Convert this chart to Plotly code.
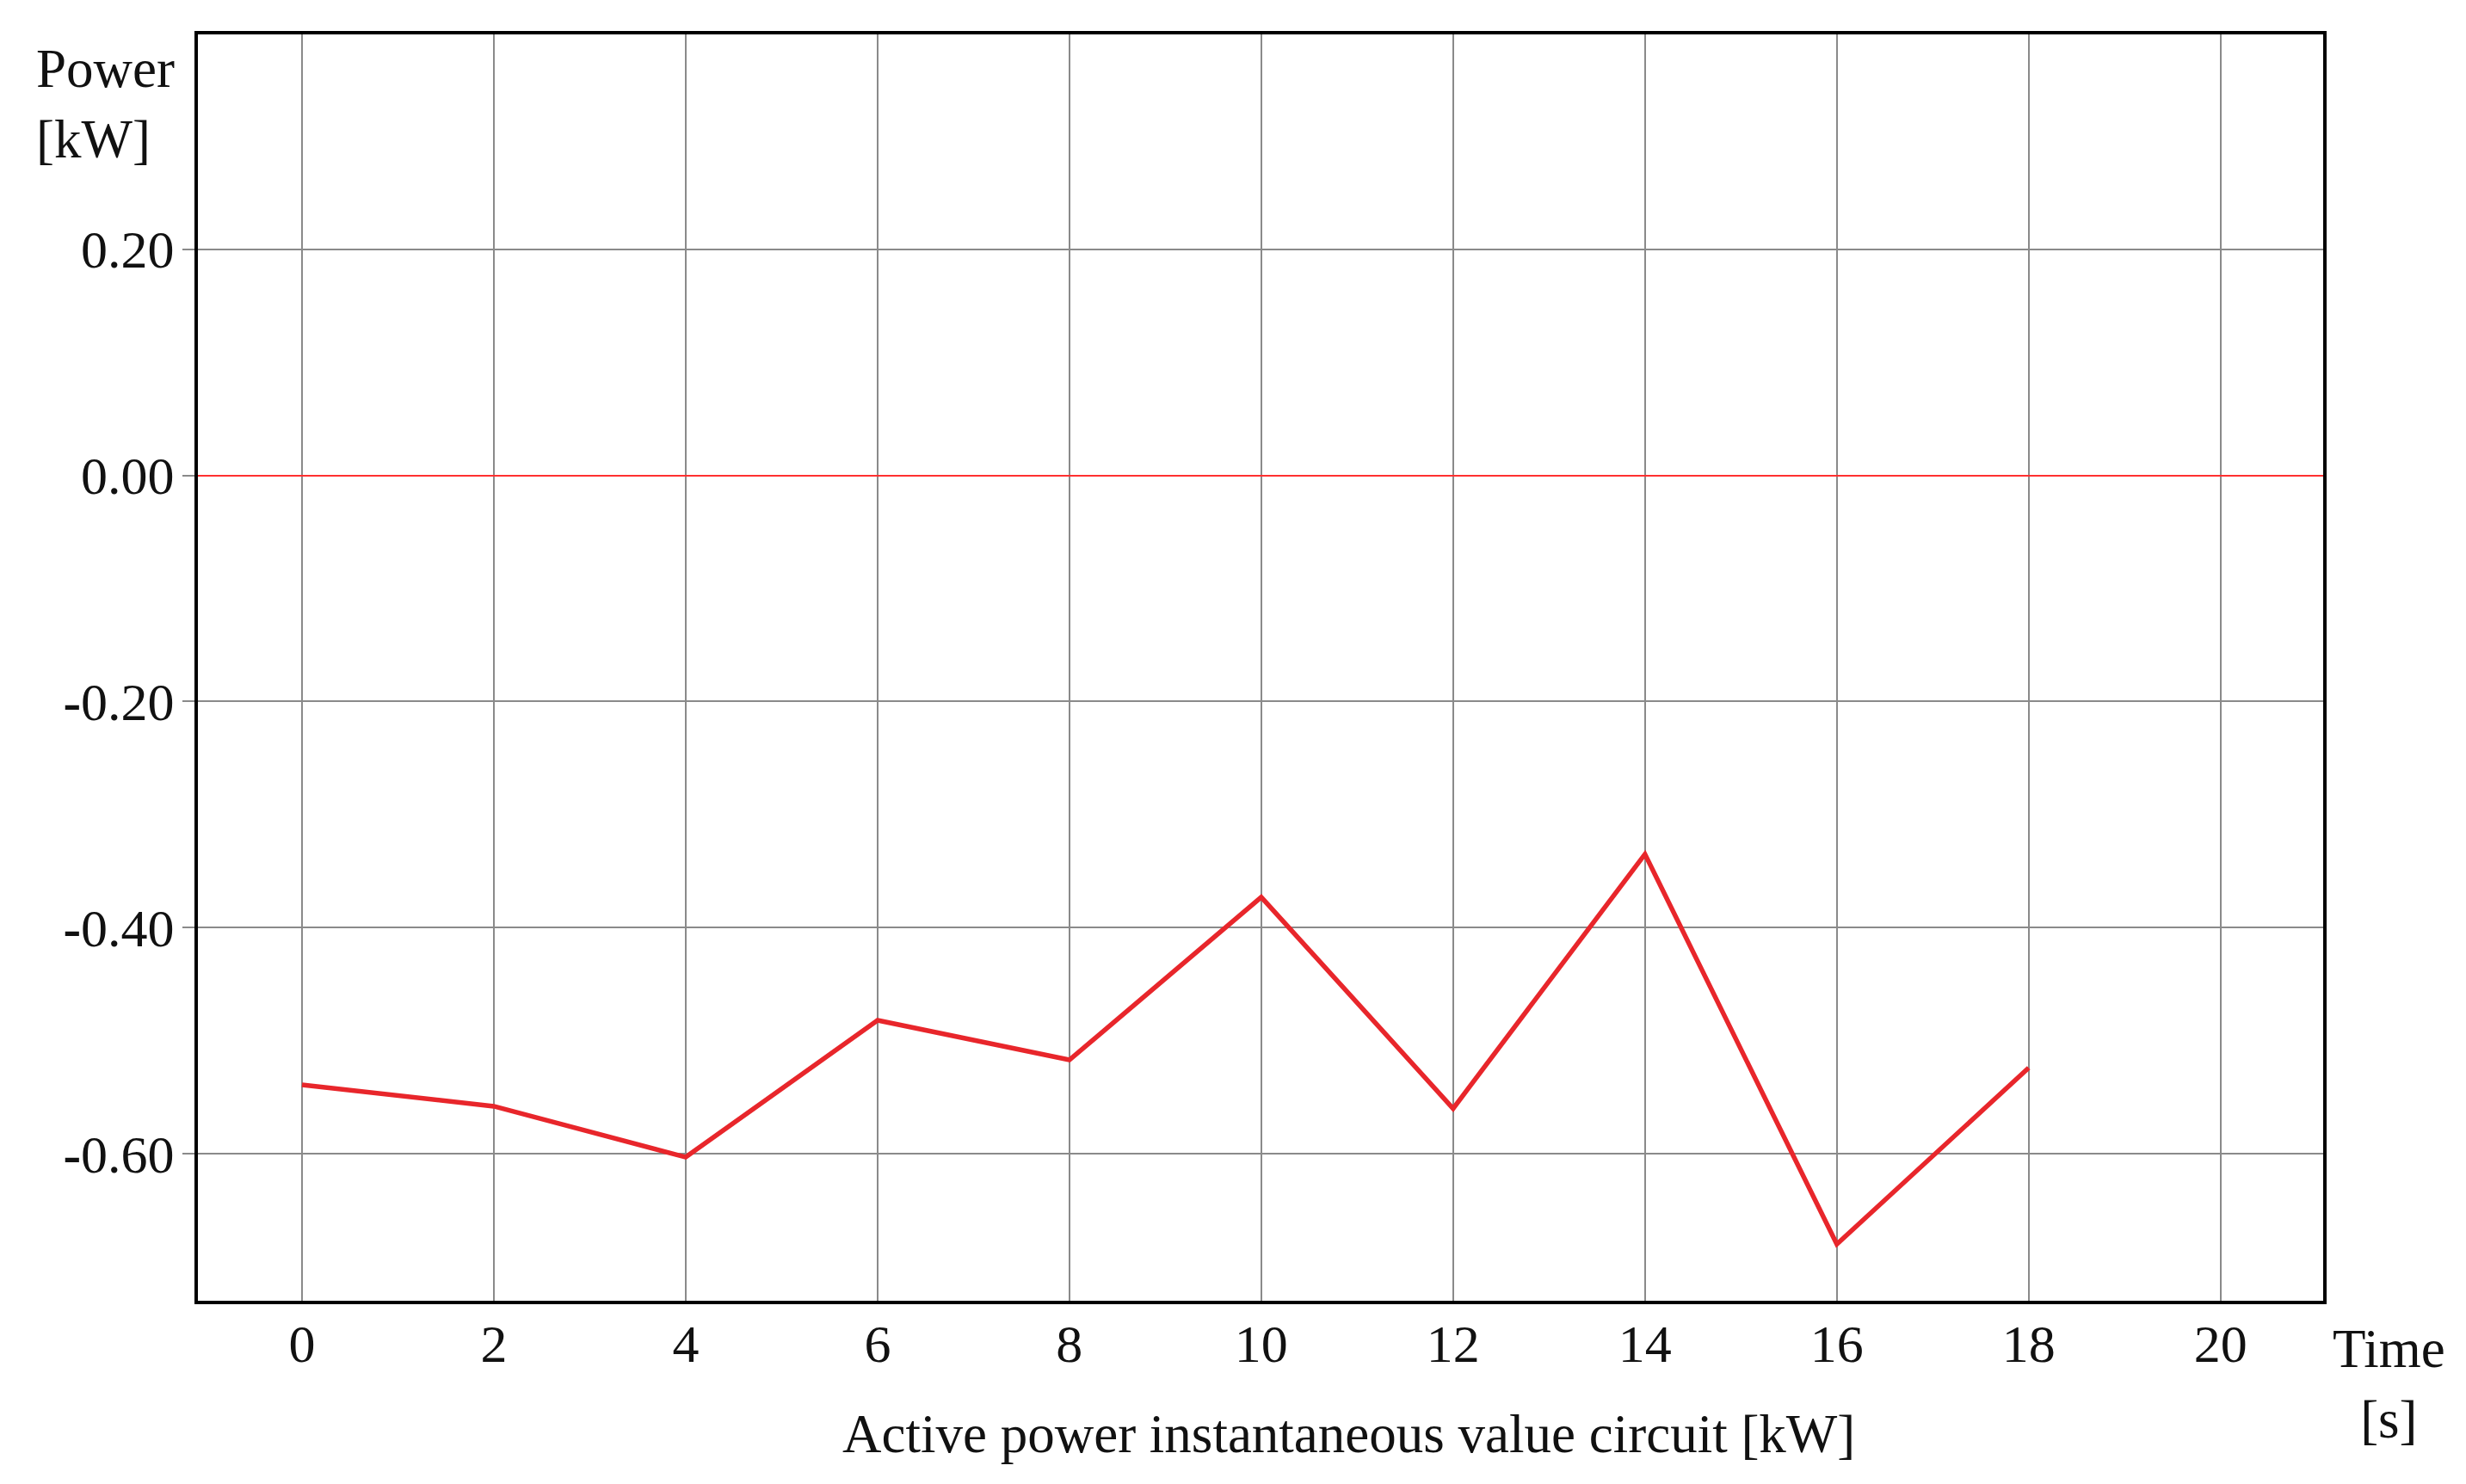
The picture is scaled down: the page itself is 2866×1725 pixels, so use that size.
import plotly.graph_objects as go

# time [s] and active power [kW]
time_s = [0, 2, 4, 6, 8, 10, 12, 14, 16, 18]
power_kw = [-0.539, -0.558, -0.603, -0.482, -0.517, -0.373, -0.560, -0.335, -0.680, -0.524]

x_ticks = [0, 2, 4, 6, 8, 10, 12, 14, 16, 18, 20]
y_ticks = [0.2, 0.0, -0.2, -0.4, -0.6]
y_ticktext = ["0.20", "0.00", "<b>-</b>0.20", "<b>-</b>0.40", "<b>-</b>0.60"]

FONT = "Liberation Serif"
GRID = "#8a8a8a"

fig = go.Figure()
fig.add_trace(go.Scatter(
    x=time_s, y=power_kw, mode="lines",
    line=dict(color="#e8262b", width=5.5),
    showlegend=False,
))

# page body has an 8px margin, so shift the plot area up/left by that
fig.update_layout(
    width=2866, height=1725,
    margin=dict(l=222, r=174, t=32, b=221),
    paper_bgcolor="white", plot_bgcolor="white",
    font=dict(family=FONT, size=62, color="#111111"),
)

fig.update_xaxes(
    range=[-1.085, 21.07],
    tickvals=x_ticks,
    showgrid=True, gridcolor=GRID, gridwidth=2,
    zeroline=False,
    showline=True, mirror=True, linecolor="black", linewidth=4,
    ticks="", ticklen=0, ticklabelstandoff=-7,
    tickfont=dict(family=FONT, size=62),
)
fig.update_yaxes(
    range=[-0.73, 0.39],
    tickvals=y_ticks, ticktext=y_ticktext,
    showgrid=True, gridcolor=GRID, gridwidth=2,
    zeroline=True, zerolinecolor="#ff3030", zerolinewidth=2,
    showline=True, mirror=True, linecolor="black", linewidth=4,
    ticks="outside", ticklen=14, tickwidth=2, tickcolor=GRID,
    ticklabelstandoff=-3,
    tickfont=dict(family=FONT, size=62),
)

fig.add_annotation(
    text="Power<br>[kW]", xref="paper", yref="paper",
    x=-0.077, y=0.998, xanchor="left", yanchor="top", align="left",
    showarrow=False, font=dict(family=FONT, size=63),
)
fig.add_annotation(
    text="Active power instantaneous value circuit [kW]",
    xref="paper", yref="paper", x=0.5415, y=-0.105,
    xanchor="center", yanchor="middle",
    showarrow=False, font=dict(family=FONT, size=63),
)
fig.add_annotation(
    text="Time<br>[s]", xref="paper", yref="paper",
    x=1.031, y=-0.066, xanchor="center", yanchor="middle", align="center",
    showarrow=False, font=dict(family=FONT, size=63),
)

fig.write_html("out.html")
